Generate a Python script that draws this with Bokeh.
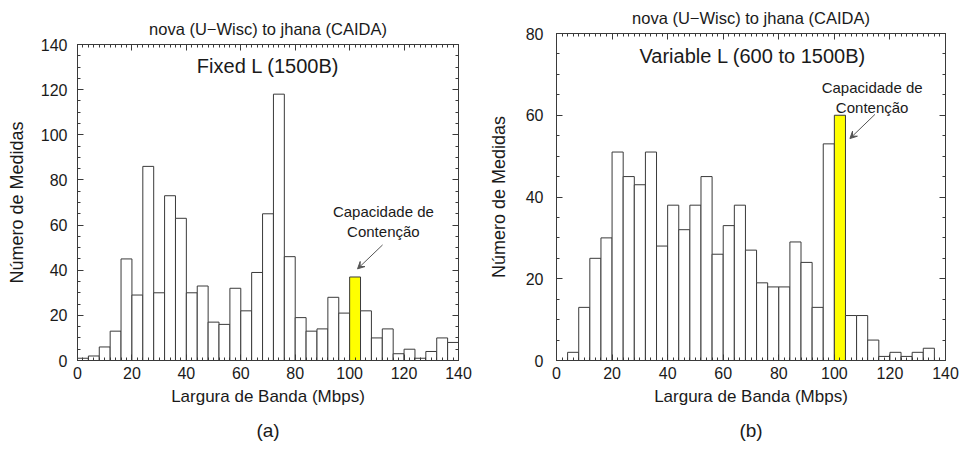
from bokeh.plotting import figure
from bokeh.layouts import row, column, Spacer
from bokeh.models import (LinearAxis, SingleIntervalTicker, Label, Arrow, Title,
                          VeeHead, ColumnDataSource, Range1d, CustomJSTickFormatter)
from bokeh.embed import file_html
from bokeh.resources import INLINE

# ---------------- data ----------------
bin_start = [0, 4, 8, 12, 16, 20, 24, 28, 32, 36, 40, 44, 48, 52, 56, 60, 64,
             68, 72, 76, 80, 84, 88, 92, 96, 100, 104, 108, 112, 116, 120, 124,
             128, 132, 136]
bin_width = 4
counts_fixed = [1, 2, 6, 13, 45, 29, 86, 30, 73, 63, 30, 33, 17, 16, 32, 22, 39,
                65, 118, 46, 19, 13, 14, 28, 21, 37, 22, 10, 14, 3, 5, 1, 4, 10, 8]
counts_var = [0, 2, 13, 25, 30, 51, 45, 43, 51, 28, 38, 32, 38, 45, 26, 33, 38,
              27, 19, 18, 18, 29, 24, 13, 53, 60, 11, 11, 5, 1, 2, 1, 2, 3, 0]
contention_bin = 100

suptitle = "nova (U\u2212Wisc) to jhana (CAIDA)"
xlabel = "Largura de Banda (Mbps)"
ylabel = "Número de Medidas"
FONT = "Liberation Sans"
INK = "#1a1a1a"
EDGE = "#3a3a3a"


def make_panel(counts, ymax, inner_title, inner_xy, note_xy, arrow_xy, sub,
               height, borders, ystand, tick_stand):
    left_b, right_b, top_b = borders
    p = figure(width=481, height=height, x_range=Range1d(0, 140),
               y_range=Range1d(0, ymax), output_backend="svg",
               toolbar_location=None, tools="", title=suptitle,
               min_border_left=left_b, min_border_right=right_b,
               min_border_top=top_b, min_border_bottom=89)
    p.xgrid.visible = False
    p.ygrid.visible = False
    p.outline_line_color = EDGE
    p.outline_line_width = 1
    p.background_fill_color = "white"
    p.border_fill_color = "white"

    # figure title (the plot's own title)
    p.title.align = "center"
    p.title.vertical_align = "top"
    p.title.text_font = FONT
    p.title.text_font_size = "16.5px"
    p.title.text_font_style = "normal"
    p.title.text_color = INK
    p.title.standoff = 10

    src = ColumnDataSource(dict(
        left=bin_start,
        right=[b + bin_width for b in bin_start],
        top=counts,
        color=["#FFFF00" if b == contention_bin else "white" for b in bin_start],
    ))
    p.quad(left="left", right="right", top="top", bottom=0, source=src,
           fill_color="color", line_color=EDGE, line_width=1)

    bx = p.below[0]
    ly = p.left[0]
    bx.ticker = SingleIntervalTicker(interval=20, num_minor_ticks=10)
    ly.ticker = SingleIntervalTicker(interval=20, num_minor_ticks=4)
    bx.axis_label = xlabel
    ly.axis_label = ylabel
    ly.axis_label_standoff = ystand
    ly.major_label_standoff = tick_stand

    blank = CustomJSTickFormatter(code="return ''")
    top_ax = LinearAxis(ticker=SingleIntervalTicker(interval=20, num_minor_ticks=10),
                        formatter=blank, major_label_standoff=0,
                        major_label_text_font_size="1px")
    right_ax = LinearAxis(ticker=SingleIntervalTicker(interval=20, num_minor_ticks=4),
                          formatter=blank, major_label_standoff=0,
                          major_label_text_font_size="1px")
    p.add_layout(top_ax, "above")
    p.add_layout(right_ax, "right")

    for ax in [bx, ly, top_ax, right_ax]:
        ax.axis_line_color = EDGE
        ax.major_tick_in = 6
        ax.major_tick_out = 0
        ax.minor_tick_in = 3
        ax.minor_tick_out = 0
        ax.major_tick_line_color = EDGE
        ax.minor_tick_line_color = EDGE
    for ax in [bx, ly]:
        ax.major_label_text_font = FONT
        ax.major_label_text_font_size = "16px"
        ax.major_label_text_color = INK
        ax.axis_label_text_font = FONT
        ax.axis_label_text_font_style = "normal"
        ax.axis_label_text_color = INK
    bx.axis_label_text_font_size = "17px"
    bx.axis_label_standoff = 5
    bx.major_label_standoff = 6
    ly.axis_label_text_font_size = "18px"

    # panel tag below the axis label
    p.add_layout(Title(text=sub, align="center", text_font=FONT,
                       text_font_size="19px", text_font_style="normal",
                       text_color=INK, standoff=19), "below")

    p.add_layout(Label(x=inner_xy[0], y=inner_xy[1], text=inner_title,
                       text_font=FONT, text_font_size="20px", text_color=INK,
                       text_align="center", text_baseline="middle"))
    p.add_layout(Label(x=note_xy[0], y=note_xy[1], text="Capacidade de\nContenção",
                       text_font=FONT, text_font_size="15px", text_color=INK,
                       text_align="center", text_baseline="middle",
                       text_line_height=1.15))
    p.add_layout(Arrow(x_start=arrow_xy[0], y_start=arrow_xy[1],
                       x_end=arrow_xy[2], y_end=arrow_xy[3],
                       line_color="#555555", line_width=1,
                       end=VeeHead(size=7, line_color="#555555",
                                   fill_color="#555555", line_width=1)))
    return p


pa = make_panel(counts_fixed, 140, "Fixed L (1500B)", (70, 130.5),
                (112.4, 61.6), (112.1, 51.2, 102.9, 40.6), "(a)",
                439, (77, 23, 33), 11, 10)
pb = make_panel(counts_var, 80, "Variable L (600 to 1500B)", (70.6, 74.4),
                (113.6, 64.4), (114.6, 60.2, 105.6, 54.3), "(b)",
                450, (75, 17, 33), 14, 13)

layout = row(column(Spacer(width=481, height=11), pa, spacing=0), pb, spacing=0)
open("out.html", "w").write(file_html(layout, INLINE))
